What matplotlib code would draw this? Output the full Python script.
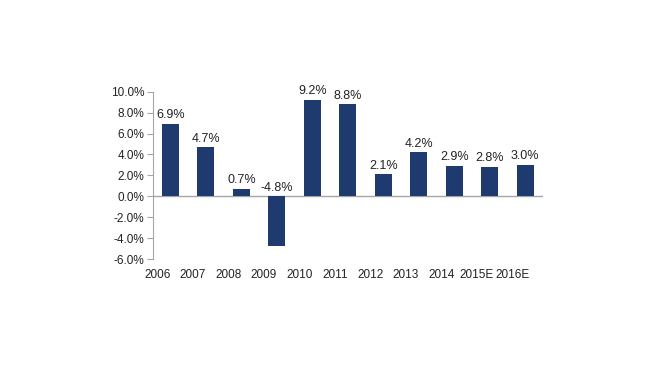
import matplotlib.pyplot as plt
from matplotlib.ticker import FuncFormatter
from matplotlib.transforms import ScaledTranslation

years = ['2006', '2007', '2008', '2009', '2010', '2011', '2012', '2013', '2014', '2015E', '2016E']
growth = [6.9, 4.7, 0.7, -4.8, 9.2, 8.8, 2.1, 4.2, 2.9, 2.8, 3.0]

plt.rcParams['font.family'] = ['Liberation Sans', 'DejaVu Sans']

fig = plt.figure(figsize=(6.6, 3.8), dpi=100)
ax = fig.add_axes([0.2314, 0.3184, 0.5913, 0.4403])

x = list(range(len(years)))
ax.bar(x, growth, width=0.48, color='#1f3a6e', zorder=2)

# value labels above the bars (negative one sits above zero line)
for xi, v in zip(x, growth):
    y = v if v > 0 else 0
    ax.text(xi, y + 0.25, f'{v:.1f}%', ha='center', va='bottom', fontsize=9, color='#222222')

ax.axhline(0, color='#a6a6a6', linewidth=1, zorder=1)

ax.set_xlim(-0.5, len(years) - 0.5)
ax.set_ylim(-6, 10)
ax.set_yticks([-6, -4, -2, 0, 2, 4, 6, 8, 10])
ax.yaxis.set_major_formatter(FuncFormatter(lambda v, p: f'{v:.1f}%'))
ax.set_xticks(x)
ax.set_xticklabels(years)

for s in ['top', 'right', 'bottom']:
    ax.spines[s].set_visible(False)
ax.spines['left'].set_color('#a6a6a6')
ax.tick_params(axis='y', length=4, color='#a6a6a6', labelsize=8.5, pad=2, labelcolor='#222222')
ax.tick_params(axis='x', length=0, labelsize=8.5, pad=7, labelcolor='#222222')

# category labels sit a bit left of the bars, as in the original
shift = ScaledTranslation(-13 / 100, 0, fig.dpi_scale_trans)
for lbl in ax.get_xticklabels():
    lbl.set_transform(lbl.get_transform() + shift)

fig.savefig('out.png', dpi=100)
